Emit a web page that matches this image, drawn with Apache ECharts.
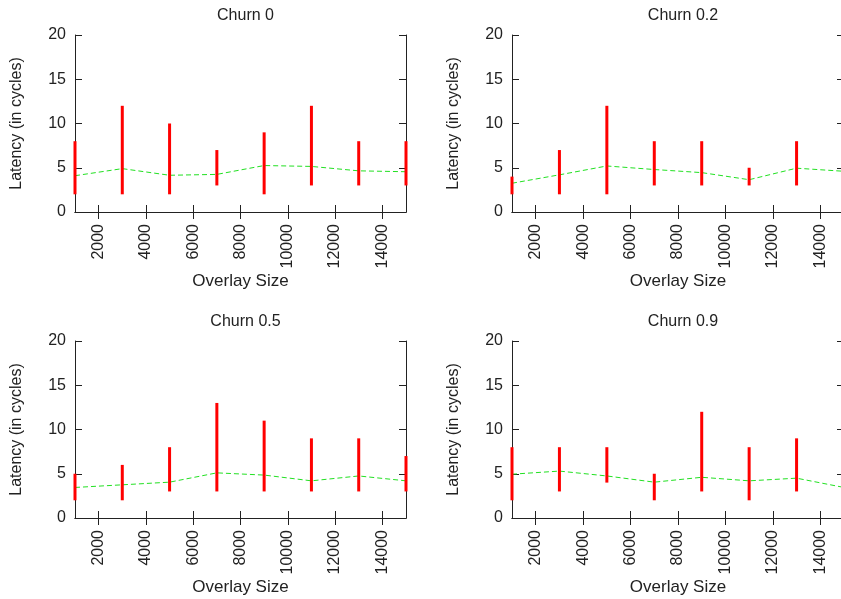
<!DOCTYPE html>
<html>
<head>
<meta charset="utf-8">
<script src="https://cdn.jsdelivr.net/npm/echarts@6/dist/echarts.min.js"></script>
<style>html,body{margin:0;padding:0;background:#fff}#c{width:841px;height:599px}</style>
</head>
<body>
<div id="c"></div>
<script>
const overlaySizes = [1000, 3000, 5000, 7000, 9000, 11000, 13000, 15000];
const xTicks = [2000, 4000, 6000, 8000, 10000, 12000, 14000];
const yTicks = [0, 5, 10, 15, 20];
const titles = ['Churn 0', 'Churn 0.2', 'Churn 0.5', 'Churn 0.9'];

const churn0Min  = [2, 2, 2, 3, 2, 3, 3, 3];
const churn0Max  = [8, 12, 10, 7, 9, 12, 8, 8];
const churn0Mean = [4.1, 4.9, 4.15, 4.25, 5.25, 5.15, 4.65, 4.55];

const churn02Min  = [2, 2, 2, 3, 3, 3, 3, 3];
const churn02Max  = [4, 7, 12, 8, 8, 5, 8, 8];
const churn02Mean = [3.25, 4.2, 5.2, 4.8, 4.45, 3.65, 4.95, 4.6];

const churn05Min  = [2, 2, 3, 3, 3, 3, 3, 3];
const churn05Max  = [5, 6, 8, 13, 11, 9, 9, 7];
const churn05Mean = [3.45, 3.75, 4.05, 5.1, 4.85, 4.2, 4.75, 4.2];

const churn09Min  = [2, 3, 4, 2, 3, 2, 3, 3];
const churn09Max  = [8, 8, 8, 5, 12, 8, 9, 7];
const churn09Mean = [4.95, 5.3, 4.75, 4.05, 4.6, 4.2, 4.5, 3.45];

const panels = [
  {min: churn0Min, max: churn0Max, mean: churn0Mean},
  {min: churn02Min, max: churn02Max, mean: churn02Mean},
  {min: churn05Min, max: churn05Max, mean: churn05Mean},
  {min: churn09Min, max: churn09Max, mean: churn09Mean}
];

const grids = [
  {left: 75, top: 35, width: 331, height: 177},
  {left: 512, top: 35, width: 332, height: 177},
  {left: 75, top: 341, width: 331, height: 177},
  {left: 512, top: 341, width: 332, height: 177}
];

const font = 'Liberation Sans, Arial, sans-serif';
const txt = '#222';
const lineStyle = {color: '#222', width: 1};
const fmt = v => String(v);

const option = {
  animation: false,
  backgroundColor: '#fff',
  title: [], grid: [], xAxis: [], yAxis: [], series: []
};

grids.forEach((g, i) => {
  option.grid.push(Object.assign({containLabel: false, outerBoundsMode: 'none'}, g));
  option.title.push({
    text: titles[i],
    left: g.left + g.width / 2, textAlign: 'center',
    top: g.top - 32,
    textStyle: {fontFamily: font, fontSize: 16, fontWeight: 'normal', color: txt}
  });
  option.xAxis.push({
    type: 'value', gridIndex: i, min: 1000, max: 15000, position: 'bottom',
    name: 'Overlay Size', nameLocation: 'middle', nameGap: 61,
    nameTextStyle: {fontFamily: font, fontSize: 17, color: txt},
    axisLine: {show: true, lineStyle: lineStyle},
    axisTick: {show: true, inside: true, length: 7, lineStyle: lineStyle, customValues: xTicks},
    axisLabel: {show: true, rotate: 90, margin: 12, fontFamily: font, fontSize: 16, color: txt, customValues: xTicks, formatter: fmt},
    splitLine: {show: false}
  });
  option.xAxis.push({
    type: 'value', gridIndex: i, min: 1000, max: 15000, position: 'top',
    axisLine: {show: true, lineStyle: lineStyle},
    axisTick: {show: true, inside: true, length: 7, lineStyle: lineStyle, customValues: xTicks},
    axisLabel: {show: false, customValues: xTicks},
    splitLine: {show: false}
  });
  option.yAxis.push({
    type: 'value', gridIndex: i, min: 0, max: 20, interval: 5, position: 'left',
    name: 'Latency (in cycles)', nameLocation: 'middle', nameGap: 50,
    nameTextStyle: {fontFamily: font, fontSize: 16, color: txt},
    axisLine: {show: true, lineStyle: lineStyle},
    axisTick: {show: true, inside: true, length: 7, lineStyle: lineStyle},
    axisLabel: {show: true, margin: 9, fontFamily: font, fontSize: 16, color: txt, formatter: fmt},
    splitLine: {show: false}
  });
  option.yAxis.push({
    type: 'value', gridIndex: i, min: 0, max: 20, interval: 5, position: 'right',
    axisLine: {show: true, lineStyle: lineStyle},
    axisTick: {show: true, inside: true, length: 7, lineStyle: lineStyle},
    axisLabel: {show: false},
    splitLine: {show: false}
  });
  const p = panels[i];
  option.series.push({
    type: 'line', xAxisIndex: 2 * i, yAxisIndex: 2 * i,
    data: overlaySizes.map((x, k) => [x, p.mean[k]]),
    showSymbol: false, symbol: 'none', clip: true,
    lineStyle: {color: '#22e022', width: 1, type: [5, 3]},
    z: 2
  });
  option.series.push({
    type: 'custom', xAxisIndex: 2 * i, yAxisIndex: 2 * i,
    data: overlaySizes.map((x, k) => [x, p.min[k], p.max[k]]),
    clip: false,
    renderItem: function (params, api) {
      const a = api.coord([api.value(0), api.value(1)]);
      const b = api.coord([api.value(0), api.value(2)]);
      return {
        type: 'line',
        shape: {x1: a[0], y1: a[1], x2: b[0], y2: b[1]},
        style: {stroke: '#ff0000', lineWidth: 3}
      };
    },
    z: 3
  });
});

const chart = echarts.init(document.getElementById('c'), null, {renderer: 'canvas'});
chart.setOption(option);
</script>
</body>
</html>
